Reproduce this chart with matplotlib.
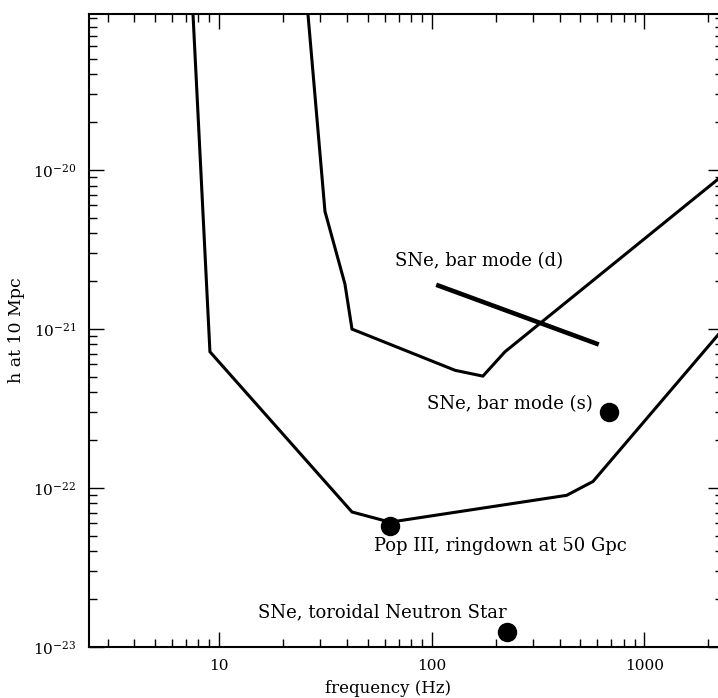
import matplotlib
matplotlib.use("Agg")
import matplotlib.pyplot as plt
from matplotlib.ticker import LogLocator, NullFormatter

plt.rcParams["font.family"] = "DejaVu Serif"
plt.rcParams["mathtext.fontset"] = "dejavuserif"

# sensitivity curves (frequency in Hz, strain h)
lower_f = [7.55, 9.07, 42.2, 63.7, 431, 573, 2340]
lower_h = [9.6e-20, 7.2e-22, 7.07e-23, 6.1e-23, 9.0e-23, 1.1e-22, 1.0e-21]
upper_f = [26.2, 31.5, 39.1, 42.2, 129, 174, 221, 2340]
upper_h = [9.6e-20, 5.5e-21, 1.92e-21, 1.0e-21, 5.5e-22, 5.06e-22, 7.2e-22, 9.3e-21]

# bar mode (d) track
bar_d_f = [105, 610]
bar_d_h = [1.9e-21, 8.0e-22]

# point sources
src_names = ["SNe, bar mode (s)", "Pop III, ringdown at 50 Gpc", "SNe, toroidal Neutron Star"]
src_f = [680, 64, 225]
src_h = [3.0e-22, 5.75e-23, 1.24e-23]

x_ticks = [10, 100, 1000]
y_ticks = [1e-23, 1e-22, 1e-21, 1e-20]

fig = plt.figure(figsize=(7.18, 6.98), dpi=100)
ax = fig.add_axes([89 / 718, 1 - 647 / 698, 634 / 718, 633 / 698])
ax.set_xscale("log")
ax.set_yscale("log")
ax.set_xlim(2.45, 2340)
ax.set_ylim(1e-23, 9.6e-20)

ax.plot(lower_f, lower_h, color="black", lw=2.2, solid_joinstyle="miter")
ax.plot(upper_f, upper_h, color="black", lw=2.2, solid_joinstyle="miter")
ax.plot(bar_d_f, bar_d_h, color="black", lw=3.3, solid_capstyle="butt")
ax.plot(src_f, src_h, "o", color="black", ms=13, zorder=4)

tfs = 13
ax.text(67.2, 2.68e-21, "SNe, bar mode (d)", fontsize=tfs, ha="left", va="center")
ax.text(573, 3.37e-22, src_names[0], fontsize=tfs, ha="right", va="center")
ax.text(53.6, 4.33e-23, src_names[1], fontsize=tfs, ha="left", va="center")
ax.text(15.2, 1.65e-23, src_names[2], fontsize=tfs, ha="left", va="center")

ax.set_xlabel("frequency (Hz)", fontsize=12)
ax.set_ylabel("h at 10 Mpc", fontsize=12.5)
ax.xaxis.set_label_coords(0.472, -0.052)
ax.yaxis.set_label_coords(-0.101, 0.50)

ax.xaxis.set_minor_locator(LogLocator(base=10, subs=range(2, 10), numticks=20))
ax.yaxis.set_minor_locator(LogLocator(base=10, subs=range(2, 10), numticks=20))
ax.xaxis.set_minor_formatter(NullFormatter())
ax.yaxis.set_minor_formatter(NullFormatter())
ax.set_xticks(x_ticks)
ax.set_xticklabels([str(t) for t in x_ticks])
ax.set_yticks(y_ticks)
ax.set_xlim(2.45, 2340)
ax.set_ylim(1e-23, 9.6e-20)

ax.tick_params(which="both", direction="in", top=True, right=True, labelsize=11, width=1.0)
ax.tick_params(which="major", length=11, pad=9)
ax.tick_params(which="minor", length=6)
for s in ax.spines.values():
    s.set_linewidth(1.5)

fig.savefig("out.png", dpi=100)
